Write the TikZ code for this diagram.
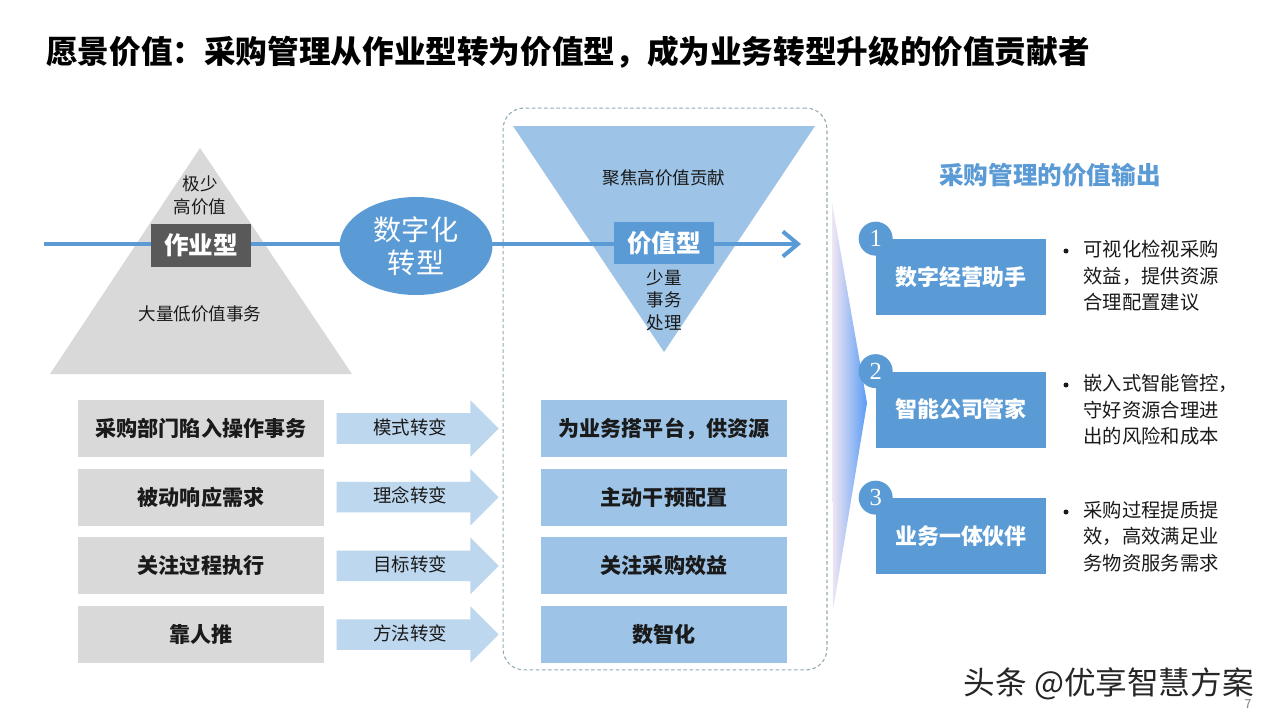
\documentclass[tikz,border=0pt]{standalone}
\usepackage{fontspec}
\setmainfont{Noto Sans CJK SC}
\newfontfamily\numfont{Liberation Serif}
\usetikzlibrary{shapes.geometric, shapes.arrows, arrows.meta, positioning, calc}
\definecolor{vbblue}{HTML}{5B9BD5}
\definecolor{vblight}{HTML}{9DC3E6}
\definecolor{vbpale}{HTML}{BDD7EE}
\definecolor{vbgray}{HTML}{D9D9D9}
\definecolor{vbdark}{HTML}{595959}
\definecolor{vbtext}{HTML}{1A1A1A}
\definecolor{vbdash}{HTML}{8FA9B5}
\definecolor{vblav}{HTML}{F1E6F3}
\definecolor{vbvivid}{HTML}{5A9CF4}
\tikzset{
  oldbox/.style={rectangle, fill=vbgray, text=vbtext, font=\fontsize{12}{14}\selectfont\bfseries,
              minimum width=4.92cm, minimum height=1.14cm, inner sep=0pt},
  valbox/.style={rectangle, fill=vblight, text=vbtext, font=\fontsize{12}{14}\selectfont\bfseries,
              minimum width=4.92cm, minimum height=1.14cm, inner sep=0pt},
  shiftarr/.style={single arrow, fill=vbpale, text=vbtext, single arrow head extend=0.26cm,
              minimum height=3.24cm, text height=8pt, text depth=1.5pt, inner ysep=3.75pt,
              inner xsep=4pt, font=\fontsize{10.5}{12}\selectfont},
  typebox/.style={rectangle, text=white, font=\fontsize{14}{16}\selectfont\bfseries,
              minimum width=2cm, minimum height=0.86cm, inner sep=0pt},
  outbox/.style={rectangle, fill=vbblue, text=white, font=\fontsize{12.5}{14}\selectfont\bfseries,
              minimum width=3.4cm, minimum height=1.52cm, inner sep=0pt},
  numdot/.style={circle, fill=vbblue, text=white, minimum size=0.68cm, inner sep=0pt,
              font=\numfont\fontsize{14}{15}\selectfont},
  note/.style={font=\fontsize{10}{13}\selectfont, text=vbtext, align=center, inner sep=0pt},
  bullet/.style={font=\fontsize{11}{15}\selectfont, text=vbtext, align=left, anchor=north west, inner sep=0pt},
  dotmark/.style={circle, fill=vbtext, minimum size=0.1cm, inner sep=0pt},
  mainline/.style={draw=vbblue, line width=2.3pt, -{Straight Barb[length=3mm, width=5mm]}},
}
\begin{document}
\begin{tikzpicture}[x=0.02cm, y=-0.02cm, node distance=0.22cm]
  \useasboundingbox[fill=white] (0,0) rectangle (1280,720);
  \node[anchor=west, font=\fontsize{18}{20}\selectfont\bfseries, text=black] (title) at (40,52)
    {愿景价值：采购管理从作业型转为价值型，成为业务转型升级的价值贡献者};

  % pyramid and funnel
  \fill[vbgray] (200,148) -- (352,374) -- (50,374) -- cycle;
  \node[draw=vbdash, dashed, dash pattern=on 2pt off 1.5pt, line width=0.6pt, rounded corners=12pt,
        minimum width=6.48cm, minimum height=11.24cm] (focus) at (665,389) {};
  \fill[vblight] (513,126) -- (815,126) -- (664,352) -- cycle;

  % main axis
  \coordinate (lstart) at (44,244);
  \coordinate (lend) at (801,244);
  \draw[mainline] (lstart) -- (lend);

  \node[note] (few) at (200,195) {极少\\高价值};
  \node[typebox, fill=vbdark] (zuoye) at (201,245.5) {作业型};
  \node[note] (many) at (200,314) {大量低价值事务};
  \node[ellipse, fill=vbblue, text=white, minimum width=3.06cm, minimum height=1.96cm, inner sep=0pt,
        align=center, font=\fontsize{16}{19}\selectfont] (digi) at (416,246) {数字化\\转型};
  \node[note] (focus-t) at (664,178) {聚焦高价值贡献};
  \node[typebox, fill=vbblue, minimum height=0.84cm] (jiazhi) at (664,243) {价值型};
  \node[note, font=\fontsize{10}{12.8}\selectfont] (less) at (664,300) {少量\\事务\\处理};

  % rows
  \node[oldbox] (old1) at (201,428.5) {采购部门陷入操作事务};
  \node[oldbox, below=of old1] (old2) {被动响应需求};
  \node[oldbox, below=of old2] (old3) {关注过程执行};
  \node[oldbox, below=of old3] (old4) {靠人推};
  \node[valbox] (new1) at (664,428.5) {为业务搭平台，供资源};
  \node[valbox, below=of new1] (new2) {主动干预配置};
  \node[valbox, below=of new2] (new3) {关注采购效益};
  \node[valbox, below=of new3] (new4) {数智化};
  \node[shiftarr, right=0.24cm of old1] (sh1) {模式转变};
  \node[shiftarr, right=0.24cm of old2] (sh2) {理念转变};
  \node[shiftarr, right=0.24cm of old3] (sh3) {目标转变};
  \node[shiftarr, right=0.24cm of old4] (sh4) {方法转变};

  % output side
  \shade[left color=vblav, right color=vbvivid]
    (832,203) -- (867,403) -- (833,610) -- cycle;
  \node[text=vbblue, font=\fontsize{14}{16}\selectfont\bfseries] (outtitle) at (1050,175) {采购管理的价值输出};
  \node[outbox] (out1) at (961,277) {数字经营助手};
  \node[outbox] (out2) at (961,409.5) {智能公司管家};
  \node[outbox] (out3) at (961,536) {业务一体伙伴};
  \node[numdot] (n1) at (out1.north west) {1};
  \node[numdot] (n2) at (out2.north west) {2};
  \node[numdot] (n3) at (out3.north west) {3};
  \node[dotmark] (d1) at (1066,251) {};
  \node[bullet] (t1) at (1083,240) {可视化检视采购\\效益，提供资源\\合理配置建议};
  \node[dotmark] (d2) at (1066,385) {};
  \node[bullet] (t2) at (1083,374) {嵌入式智能管控，\\守好资源合理进\\出的风险和成本};
  \node[dotmark] (d3) at (1066,512) {};
  \node[bullet] (t3) at (1083,501) {采购过程提质提\\效，高效满足业\\务物资服务需求};

  \node[anchor=east, font=\fontsize{18}{20}\selectfont, text=black!85] (mark) at (1260,684) {头条 @优享智慧方案};
  \node[font=\fontsize{7}{8}\selectfont, text=black!50] (page) at (1248,704) {7};
\end{tikzpicture}
\end{document}
